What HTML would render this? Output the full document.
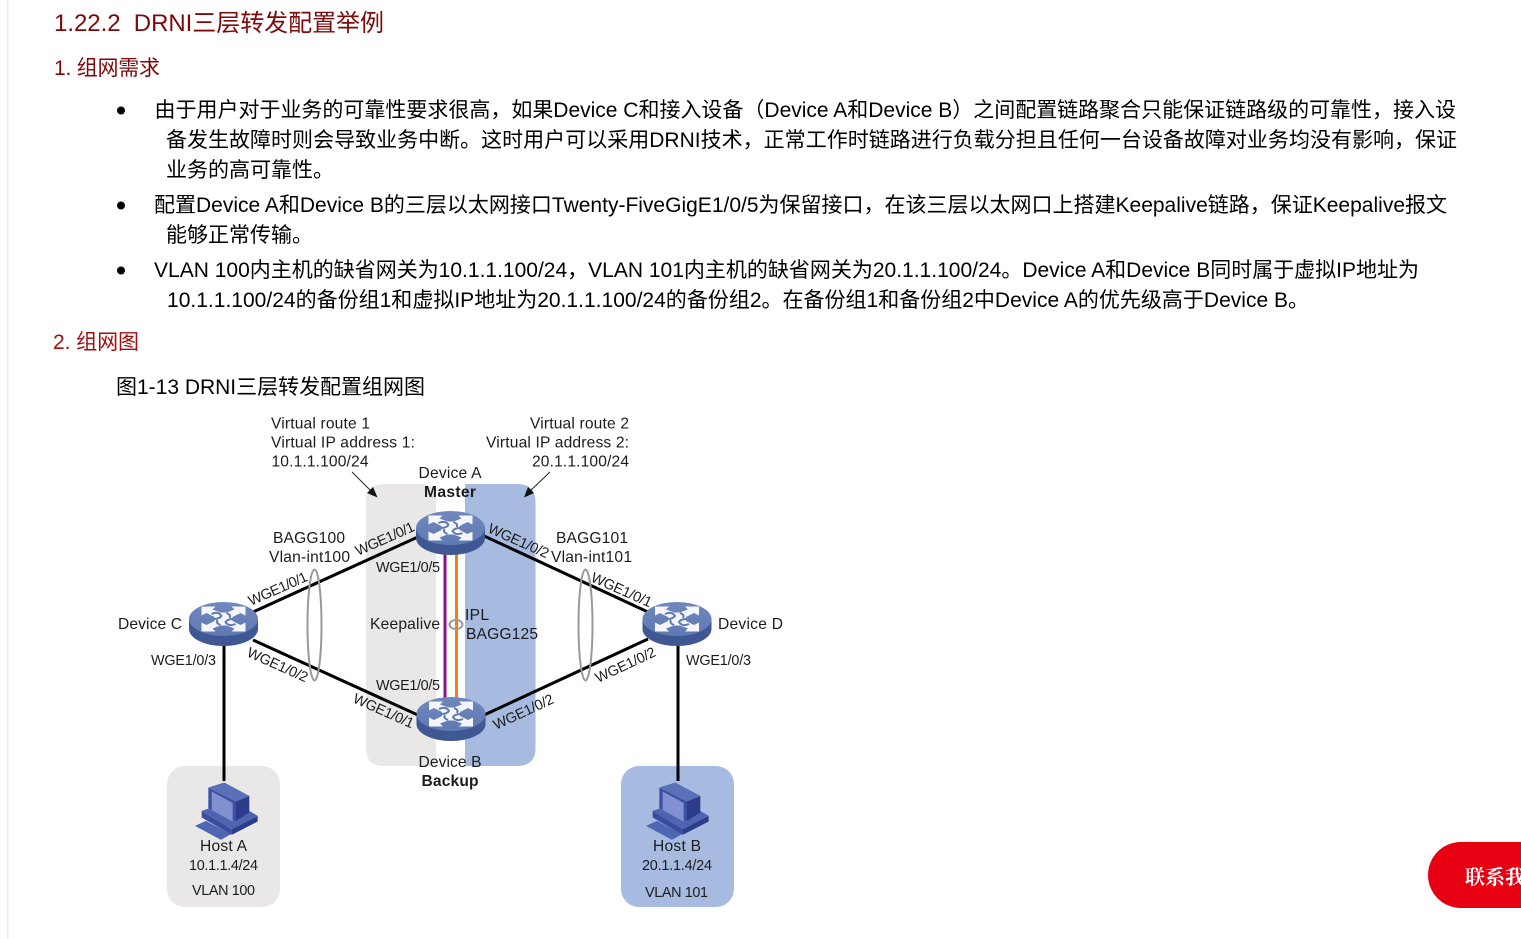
<!DOCTYPE html>
<html lang="zh"><head><meta charset="utf-8"><title>DRNI</title>
<style>
html,body{margin:0;padding:0;background:#fff;overflow:hidden}
svg{display:block}
text{font-family:"Liberation Sans","Noto Sans CJK SC",sans-serif}
.b{font-size:21px;fill:#000}
.h{fill:#7d0a0a}
.l{font-size:15.6px;fill:#1c1c1c}
.s{font-size:14.4px;fill:#1c1c1c}
.e{stroke:#000;stroke-width:3;fill:none}
</style></head><body>
<svg width="1521" height="939" viewBox="0 0 1521 939" xmlns="http://www.w3.org/2000/svg">
<defs>
<linearGradient id="top" x1="0" y1="0" x2="0" y2="1"><stop offset="0" stop-color="#7088bd"/><stop offset="1" stop-color="#5f79b2"/></linearGradient>
<g id="sw">
<path d="M-34.500,-7 V3 A34.500,17 0 0 0 34.500,3 V-7 Z" fill="#3f5792"/>
<ellipse cx="0" cy="-7" rx="34.500" ry="17" fill="url(#top)"/>
<g transform="translate(0 -7)">
<path fill="#f4f6fb" d="M-22,-12.500 L-8,-12.500 L-11,-9.500 L-3,-6.500 L3,-6.500 L11,-9.500 L8,-12.500 L22,-12.500 L22,-3.500 L17,-6 L9,-2 L9,2 L17,6 L22,3.500 L22,12.500 L8,12.500 L11,9.500 L3,6.500 L-3,6.500 L-11,9.500 L-8,12.500 L-22,12.500 L-22,3.500 L-17,6 L-9,2 L-9,-2 L-17,-6 L-22,-3.500 Z"/>
<path d="M-12,-5 Q-5,-8 -2,-3 Q-4,0 -10,0 M12,5 Q5,8 2,3 Q4,0 10,0 M3,-6 Q8,-4 6,-1 M-3,6 Q-8,4 -6,1" stroke="#5f79b2" stroke-width="2" fill="none"/>
</g>
</g>
<g id="pc" transform="translate(191 777.500) scale(.3333)">
<path d="M12,145 L45,130 L120,170 L90,187Z" fill="#4f67b3"/>
<path d="M32,100 L32,120 L122,172 L122,155Z" fill="#3a4c9e"/>
<path d="M122,155 L200,115 L200,132 L122,172Z" fill="#2c3c88"/>
<path d="M32,100 L62,90 L135,125 L175,100 L200,115 L122,155Z" fill="#4e64b0"/>
<path d="M52,30 L135,72 L135,130 L52,92Z" fill="#3c4fa3"/>
<path d="M62,42 L125,76 L125,132 L62,98Z" fill="#8090d0"/>
<path d="M52,30 L100,15 L175,55 L135,72Z" fill="#5a70b8"/>
<path d="M135,72 L175,55 L175,105 L135,130Z" fill="#2c3c8a"/>
</g>
</defs>

<rect x="7" y="0" width="1.5" height="939" fill="#ececec"/>

<text x="54" y="31" font-size="24" class="h" textLength="330" xml:space="preserve">1.22.2  DRNI三层转发配置举例</text>
<text x="54" y="75" font-size="21" class="h" textLength="106">1. 组网需求</text>
<circle cx="121" cy="110.500" r="4" fill="#000"/>
<text x="154.500" y="117" class="b" textLength="1301.500">由于用户对于业务的可靠性要求很高，如果Device C和接入设备（Device A和Device B）之间配置链路聚合只能保证链路级的可靠性，接入设</text>
<text x="166" y="147" class="b" textLength="1291">备发生故障时则会导致业务中断。这时用户可以采用DRNI技术，正常工作时链路进行负载分担且任何一台设备故障对业务均没有影响，保证</text>
<text x="166" y="177" class="b" textLength="168">业务的高可靠性。</text>
<circle cx="121" cy="205.500" r="4" fill="#000"/>
<text x="154" y="212" class="b" textLength="1293">配置Device A和Device B的三层以太网接口Twenty-FiveGigE1/0/5为保留接口，在该三层以太网口上搭建Keepalive链路，保证Keepalive报文</text>
<text x="166" y="242" class="b" textLength="147">能够正常传输。</text>
<circle cx="121" cy="270.500" r="4" fill="#000"/>
<text x="154" y="277" class="b" textLength="1265">VLAN 100内主机的缺省网关为10.1.1.100/24，VLAN 101内主机的缺省网关为20.1.1.100/24。Device A和Device B同时属于虚拟IP地址为</text>
<text x="167" y="307" class="b" textLength="1142">10.1.1.100/24的备份组1和虚拟IP地址为20.1.1.100/24的备份组2。在备份组1和备份组2中Device A的优先级高于Device B。</text>
<text x="53" y="349" font-size="21" fill="#a01010" textLength="86">2. 组网图</text>
<text x="116" y="394" font-size="21" fill="#000" textLength="309">图1-13 DRNI三层转发配置组网图</text>

<path d="M384,484 H420 Q436,484 436,500 V766 H384 Q366,766 366,748 V502 Q366,484 384,484Z" fill="#e9e8e7"/>
<path d="M465,484 H517 Q535.500,484 535.500,502 V748 Q535.500,766 517,766 H465Z" fill="#a6bbdf"/>
<rect x="167" y="766" width="113" height="141" rx="18" fill="#e9e8e7"/>
<rect x="621" y="766" width="113" height="141" rx="18" fill="#a6bbdf"/>

<line x1="352" y1="472" x2="372" y2="492" stroke="#222" stroke-width="1"/>
<path d="M377.500,497.500 L367,493 L373,487Z" fill="#111"/>
<line x1="550" y1="472" x2="529" y2="492" stroke="#222" stroke-width="1"/>
<path d="M524,497.500 L528,487 L534,493Z" fill="#111"/>

<line x1="253" y1="612" x2="420" y2="536" class="e"/>
<line x1="482" y1="535" x2="648" y2="612" class="e"/>
<line x1="253" y1="640" x2="420" y2="716" class="e"/>
<line x1="482" y1="716" x2="648" y2="639" class="e"/>
<line x1="224" y1="645" x2="224" y2="781" class="e"/>
<line x1="678" y1="645" x2="678" y2="781" class="e"/>
<line x1="445" y1="552" x2="445" y2="700" stroke="#8b1088" stroke-width="3"/>
<line x1="456.500" y1="552" x2="456.500" y2="700" stroke="#f97a12" stroke-width="3"/>
<ellipse cx="456" cy="624.500" rx="6.500" ry="4.500" fill="none" stroke="#999" stroke-width="2"/>
<ellipse cx="314.500" cy="625" rx="7" ry="55.500" fill="none" stroke="#999" stroke-width="2"/>
<ellipse cx="585.500" cy="625" rx="7" ry="55.500" fill="none" stroke="#999" stroke-width="2"/>

<use href="#sw" x="450.500" y="535"/>
<use href="#sw" x="223.500" y="626"/>
<use href="#sw" x="677" y="626"/>
<use href="#sw" x="451" y="721"/>
<use href="#pc"/>
<use href="#pc" x="451"/>

<text class="l" x="271" y="428.500" textLength="99">Virtual route 1</text>
<text class="l" x="271" y="447.500" textLength="144">Virtual IP address 1:</text>
<text class="l" x="271.500" y="466.500" textLength="97">10.1.1.100/24</text>
<text class="l" x="530" y="428.500" textLength="99">Virtual route 2</text>
<text class="l" x="486" y="447.500" textLength="143">Virtual IP address 2:</text>
<text class="l" x="532" y="466.500" textLength="97">20.1.1.100/24</text>
<text class="l" x="418.500" y="478" textLength="63">Device A</text>
<text class="l" x="424" y="497" font-weight="bold" textLength="52">Master</text>
<text class="l" x="273" y="543" textLength="72">BAGG100</text>
<text class="l" x="269" y="562" textLength="81">Vlan-int100</text>
<text class="l" x="556" y="543" textLength="72">BAGG101</text>
<text class="l" x="551" y="562" textLength="81">Vlan-int101</text>
<text class="s" x="376" y="572" textLength="64">WGE1/0/5</text>
<text class="l" x="118" y="629" textLength="64">Device C</text>
<text class="l" x="370" y="629" textLength="70">Keepalive</text>
<text class="l" x="465" y="620" textLength="24">IPL</text>
<text class="l" x="466" y="639" textLength="72">BAGG125</text>
<text class="l" x="718" y="629" textLength="65">Device D</text>
<text class="s" x="151" y="665" textLength="65">WGE1/0/3</text>
<text class="s" x="686" y="665" textLength="65">WGE1/0/3</text>
<text class="s" x="376" y="690" textLength="64">WGE1/0/5</text>
<text class="l" x="418.500" y="767" textLength="63">Device B</text>
<text class="l" x="421.500" y="786" font-weight="bold" textLength="57">Backup</text>
<text class="l" x="200" y="851" textLength="47">Host A</text>
<text class="s" x="189" y="870" textLength="69">10.1.1.4/24</text>
<text class="s" x="192" y="895" textLength="63">VLAN 100</text>
<text class="l" x="653" y="851" textLength="48">Host B</text>
<text class="s" x="642" y="870" textLength="70">20.1.1.4/24</text>
<text class="s" x="645" y="897" textLength="63">VLAN 101</text>
<text class="s" transform="translate(251 606) rotate(-24)" textLength="63">WGE1/0/1</text>
<text class="s" transform="translate(358 556) rotate(-24)" textLength="63">WGE1/0/1</text>
<text class="s" transform="translate(487 532) rotate(24)" textLength="65">WGE1/0/2</text>
<text class="s" transform="translate(590 581) rotate(24)" textLength="65">WGE1/0/1</text>
<text class="s" transform="translate(246 656) rotate(24)" textLength="65">WGE1/0/2</text>
<text class="s" transform="translate(352 702) rotate(24)" textLength="65">WGE1/0/1</text>
<text class="s" transform="translate(496 730) rotate(-25)" textLength="65">WGE1/0/2</text>
<text class="s" transform="translate(598 683) rotate(-25)" textLength="65">WGE1/0/2</text>

<path d="M1461,842 H1521 V908 H1461 A33,33 0 0 1 1461,842Z" fill="#e60012"/>
<text x="1465" y="884" font-size="20" font-weight="700" fill="#fff" style="font-family:'Noto Serif CJK SC',serif">联系我们</text>
</svg>
</body></html>
